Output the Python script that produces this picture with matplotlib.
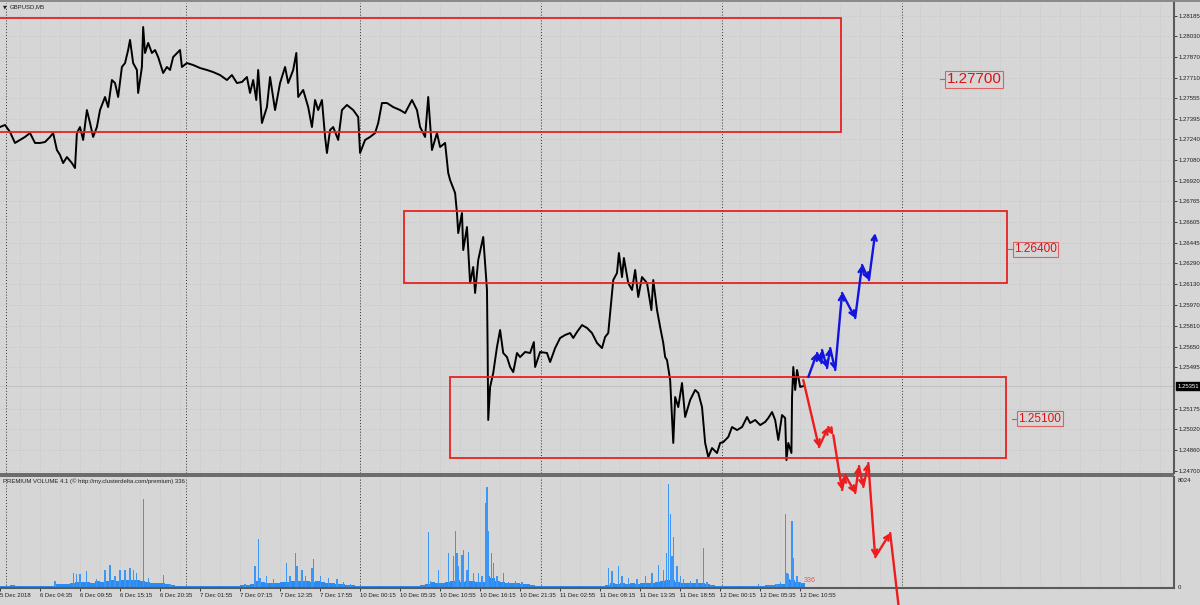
import matplotlib
matplotlib.use("Agg")
import matplotlib.pyplot as plt
from matplotlib.patches import Rectangle
import numpy as np

plt.rcParams['font.family'] = ['Liberation Sans', 'DejaVu Sans']

BG = '#d6d6d6'
GRID = '#c2c2c2'
RED = '#e62222'

# M5 bars counted from 5 Dec 23:15
time_labels = ["5 Dec 2018", "6 Dec 04:35", "6 Dec 09:55", "6 Dec 15:15", "6 Dec 20:35",
               "7 Dec 01:55", "7 Dec 07:15", "7 Dec 12:35", "7 Dec 17:55", "10 Dec 00:15",
               "10 Dec 05:35", "10 Dec 10:55", "10 Dec 16:15", "10 Dec 21:35", "11 Dec 02:55",
               "11 Dec 08:15", "11 Dec 13:35", "11 Dec 18:55", "12 Dec 00:15", "12 Dec 05:35",
               "12 Dec 10:55"]
day_sep = [10, 298, 576, 865, 1155, 1443]

price_ticks = [1.28185, 1.28030, 1.27870, 1.27710, 1.27555, 1.27395, 1.27240, 1.27080,
               1.26920, 1.26765, 1.26605, 1.26445, 1.26290, 1.26130, 1.25970, 1.25810,
               1.25650, 1.25495, 1.25175, 1.25020, 1.24860, 1.24700]
last_price = 1.25351

price_bar = [0, 8, 16, 24, 32, 40, 48, 56, 64, 72,
             80, 85, 91, 96, 101, 107, 115, 120, 123, 128,
             133, 139, 144, 149, 155, 160, 168, 173, 179, 184,
             189, 195, 200, 205, 208, 213, 219, 221, 227, 229,
             232, 237, 243, 248, 253, 261, 267, 272, 277, 288,
             291, 299, 309, 320, 331, 341, 352, 363, 371, 379,
             387, 395, 400, 405, 410, 413, 419, 427, 432, 440,
             448, 456, 461, 469, 474, 477, 485, 493, 499, 504,
             509, 515, 520, 523, 528, 533, 541, 547, 555, 565,
             573, 576, 584, 592, 600, 605, 611, 619, 629, 640,
             648, 659, 667, 672, 680, 685, 691, 699, 704, 712,
             717, 720, 728, 731, 733, 739, 741, 747, 752, 757,
             760, 765, 773, 776, 779, 780, 781, 784, 789, 795,
             800, 805, 811, 816, 821, 827, 832, 840, 848, 854,
             856, 864, 875, 880, 888, 896, 904, 912, 917, 923,
             931, 939, 947, 955, 963, 968, 973, 976, 981, 987,
             990, 995, 998, 1005, 1011, 1016, 1021, 1027, 1035, 1042,
             1045, 1051, 1056, 1061, 1064, 1067, 1072, 1077, 1080, 1085,
             1091, 1096, 1104, 1112, 1117, 1123, 1128, 1133, 1139, 1147,
             1152, 1157, 1165, 1171, 1179, 1187, 1195, 1200, 1208, 1216,
             1224, 1229, 1235, 1240, 1245, 1251, 1256, 1258, 1261, 1266,
             1267, 1269, 1272, 1275, 1280, 1285]
price_val = [1.27335, 1.27351, 1.27297, 1.27213, 1.27236, 1.27259, 1.27289, 1.27213, 1.27213, 1.27220,
             1.27259, 1.27289, 1.27159, 1.27121, 1.27059, 1.27105, 1.27059, 1.27021, 1.27289, 1.27335,
             1.27236, 1.27465, 1.27366, 1.27259, 1.27335, 1.27465, 1.27565, 1.27488, 1.27695, 1.27672,
             1.27565, 1.27795, 1.27825, 1.27925, 1.28002, 1.27825, 1.27772, 1.27596, 1.27795, 1.28101,
             1.27902, 1.27979, 1.27902, 1.27925, 1.27871, 1.27749, 1.27795, 1.27772, 1.27871, 1.27925,
             1.27795, 1.27825, 1.27810, 1.27787, 1.27772, 1.27756, 1.27733, 1.27695, 1.27733, 1.27672,
             1.27680, 1.27718, 1.27596, 1.27695, 1.27542, 1.27772, 1.27366, 1.27488, 1.27718, 1.27465,
             1.27672, 1.27795, 1.27672, 1.27772, 1.27902, 1.27565, 1.27619, 1.27488, 1.27335, 1.27542,
             1.27465, 1.27542, 1.27259, 1.27136, 1.27312, 1.27335, 1.27236, 1.27465, 1.27504, 1.27465,
             1.27412, 1.27136, 1.27236, 1.27259, 1.27289, 1.27366, 1.27519, 1.27519, 1.27488, 1.27465,
             1.27442, 1.27542, 1.27465, 1.27335, 1.27259, 1.27565, 1.27159, 1.27289, 1.27182, 1.27213,
             1.26983, 1.26929, 1.26830, 1.26676, 1.26523, 1.26676, 1.26393, 1.26569, 1.26140, 1.26263,
             1.26064, 1.26316, 1.26493, 1.26293, 1.26087, 1.25650, 1.25091, 1.25344, 1.25451, 1.25650,
             1.25780, 1.25604, 1.25573, 1.25497, 1.25458, 1.25604, 1.25573, 1.25612, 1.25604, 1.25688,
             1.25497, 1.25612, 1.25604, 1.25535, 1.25642, 1.25719, 1.25742, 1.25757, 1.25719, 1.25765,
             1.25818, 1.25796, 1.25757, 1.25681, 1.25642, 1.25727, 1.25757, 1.25910, 1.26163, 1.26217,
             1.26370, 1.26186, 1.26332, 1.26140, 1.26087, 1.26240, 1.26033, 1.26186, 1.26140, 1.25933,
             1.26163, 1.25933, 1.25803, 1.25681, 1.25573, 1.25550, 1.25397, 1.24915, 1.25267, 1.25190,
             1.25374, 1.25114, 1.25244, 1.25321, 1.25298, 1.25190, 1.24915, 1.24807, 1.24876, 1.24838,
             1.24915, 1.24922, 1.24961, 1.25037, 1.25014, 1.25037, 1.25114, 1.25068, 1.25091, 1.25052,
             1.25076, 1.25106, 1.25152, 1.25091, 1.24938, 1.25129, 1.25106, 1.24784, 1.24915, 1.24838,
             1.25267, 1.25497, 1.25321, 1.25474, 1.25344, 1.25351]

# supply / demand zones
zone_left = [-40, 647, 720]
zone_right = [1346, 1611, 1609]
zone_top = [1.28170, 1.26690, 1.25420]
zone_bottom = [1.27300, 1.26140, 1.24800]
level_price = [1.27700, 1.26400, 1.25100]
level_bar = [1514, 1622, 1629]
level_size = [11, 8.5, 8.5]

# projected paths
up_bar = [1293, 1307, 1314, 1315, 1323, 1328, 1336, 1347, 1368, 1379, 1390, 1400]
up_val = [1.25420, 1.25604, 1.25527, 1.25627, 1.25489, 1.25642, 1.25474, 1.26064,
          1.25872, 1.26278, 1.26163, 1.26523]
down_bar = [1285, 1310, 1325, 1333, 1347, 1352, 1368, 1374, 1381, 1389, 1400, 1424, 1440]
down_val = [1.25397, 1.24884, 1.25037, 1.24976, 1.24555, 1.24670, 1.24532, 1.24738,
            1.24578, 1.24761, 1.24041, 1.24225, 1.23559]

# PREMIUM VOLUME: background level every 8 bars + single-bar spikes
vol_base = [100, 80, 120, 80, 60, 90, 60, 70, 50, 80,
            60, 250, 200, 260, 330, 400, 350, 380, 330, 420,
            380, 450, 500, 480, 520, 550, 560, 520, 480, 400,
            330, 300, 300, 250, 150, 60, 40, 40, 60, 40,
            60, 40, 50, 60, 50, 40, 60, 80, 120, 150,
            200, 450, 400, 330, 300, 330, 380, 400, 430, 480,
            420, 450, 400, 420, 380, 330, 280, 220, 200, 150,
            120, 80, 60, 50, 70, 60, 80, 60, 70, 50,
            70, 80, 80, 100, 160, 200, 350, 300, 330, 350,
            450, 500, 400, 450, 420, 380, 400, 800, 700, 450,
            350, 330, 300, 280, 250, 200, 150, 80, 60, 50,
            60, 40, 50, 40, 40, 50, 40, 60, 50, 40,
            80, 120, 300, 250, 280, 250, 300, 260, 280, 300,
            330, 380, 450, 550, 500, 400, 330, 330, 300, 280,
            300, 250, 150, 80, 40, 50, 40, 60, 40, 50,
            60, 50, 100, 150, 180, 220, 250, 600, 550, 400,
            330]
vol_spike_bar = [88, 117, 123, 128, 139, 155, 168, 176, 184, 192,
                 200, 208, 213, 219, 229, 237, 261, 272, 392, 408,
                 413, 416, 427, 437, 459, 464, 472, 475, 483, 488,
                 499, 501, 512, 525, 539, 549, 560, 685, 688, 702,
                 717, 725, 728, 731, 733, 739, 742, 747, 750, 757,
                 765, 771, 776, 779, 782, 786, 789, 795, 805, 813,
                 824, 835, 973, 979, 989, 995, 1005, 1019, 1032, 1043,
                 1054, 1061, 1066, 1069, 1072, 1075, 1078, 1083, 1088, 1093,
                 1104, 1115, 1125, 1126, 1131, 1213, 1243, 1248, 1256, 1259,
                 1261, 1267, 1269, 1275, 1280]
vol_spike = [460, 1070, 950, 950, 1190, 580, 1310, 1680, 830, 1310,
             1310, 1430, 1310, 1070, 6610, 700, 880, 220, 220, 1560,
             3620, 700, 830, 580, 1800, 830, 2530, 1560, 1310, 830,
             1430, 2090, 830, 700, 580, 340, 220, 4130, 460, 1310,
             2530, 2290, 4230, 2530, 1560, 2410, 2770, 1310, 2650, 1070,
             1070, 830, 6320, 7500, 4230, 2530, 1800, 830, 1070, 340,
             460, 340, 1430, 1190, 1610, 830, 700, 580, 830, 1070,
             1680, 1310, 2530, 7750, 5440, 2290, 3740, 1560, 830, 580,
             460, 580, 2890, 1310, 340, 220, 220, 340, 5440, 1070,
             950, 4960, 2160, 830, 340]
vol_max = 8024
vol_last = 336

W, H = 1200, 605
N_BARS = 1878


def px_box(left, top, right, bottom):
    """figure-fraction rect from pixel edges"""
    return [left / W, 1 - bottom / H, (right - left) / W, (bottom - top) / H]


def draw_grid(a):
    """MT4-like dotted grid and day separators"""
    for b in range(32, N_BARS, 32):
        a.axvline(b, color=GRID, lw=0.6, ls=(0, (1, 2)), zorder=0)
    for b in day_sep:
        a.axvline(b, color='#303030', lw=0.7, ls=(0, (1, 2)), zorder=1)


def draw_path(a, xs, ys, color):
    """zig-zag path with arrow heads on every leg"""
    for i in range(len(xs) - 1):
        a.annotate('', xy=(xs[i + 1], ys[i + 1]), xytext=(xs[i], ys[i]),
                   arrowprops=dict(arrowstyle='->,head_length=0.35,head_width=0.18',
                                   color=color, lw=1.7, shrinkA=0, shrinkB=0),
                   annotation_clip=False, zorder=6)


fig = plt.figure(figsize=(12, 6.05), dpi=100, facecolor=BG)
ax = fig.add_axes(px_box(0, 3, 1174, 473))
axv = fig.add_axes(px_box(0, 477, 1174, 588))
ax.set_zorder(3)

# ---- price window
ax.set_facecolor(BG)
ax.set_xlim(0, N_BARS)
ax.set_ylim(1.24685, 1.28285)
for p in price_ticks:
    ax.axhline(p, color=GRID, lw=0.6, ls=(0, (1, 2)), zorder=0)
draw_grid(ax)
ax.axhline(last_price, color='#c4c4c4', lw=0.8, zorder=1)

for l, r, t, b in zip(zone_left, zone_right, zone_top, zone_bottom):
    ax.add_patch(Rectangle((l, b), r - l, t - b, fill=False, ec=RED, lw=1.3, zorder=4))

for p, b, s in zip(level_price, level_bar, level_size):
    ax.plot([b - 10, b], [p, p], color='#e05050', lw=0.8, zorder=4, clip_on=False)
    ax.text(b, p, f'{p:.5f}', ha='left', va='center', fontsize=s, color='#e01010', zorder=5,
            bbox=dict(boxstyle='square,pad=0.12', fc=BG, ec='#e06060', lw=0.8))

ax.plot(price_bar, price_val, color='black', lw=1.4, zorder=3)
draw_path(ax, up_bar, up_val, '#1414e0')
draw_path(ax, down_bar, down_val, '#ee1c1c')

ax.yaxis.tick_right()
ax.set_yticks(price_ticks)
ax.set_yticklabels([f'{p:.5f}' for p in price_ticks])
ax.tick_params(axis='y', labelsize=4.3, length=2, width=0.6, pad=1.2, colors='#202020')
ax.set_xticks([])
for s in ['left', 'top', 'bottom']:
    ax.spines[s].set_visible(False)
ax.spines['right'].set_color('#5a5a5a')
ax.spines['right'].set_linewidth(1.5)
ax.annotate(f'{last_price:.5f}', xy=(1, last_price), xycoords=('axes fraction', 'data'),
            xytext=(2.6, 0), textcoords='offset points', ha='left', va='center',
            fontsize=4.3, color='white', annotation_clip=False,
            bbox=dict(boxstyle='square,pad=0.25', fc='black', ec='black'))

# ---- volume window
axv.set_facecolor(BG)
axv.set_xlim(0, N_BARS)
axv.set_ylim(-75, 8250)
draw_grid(axv)
axv.bar(np.arange(len(vol_base)) * 8, vol_base, width=8, align='edge',
        color='#2a8cf0', lw=0, zorder=2)
axv.bar(vol_spike_bar, vol_spike, width=1.8, color='#3c96f5', lw=0, zorder=2)
axv.text(1286, 450, str(vol_last), fontsize=5, color='#f05050', ha='left', va='center')

axv.set_xticks(np.arange(len(time_labels)) * 64)
axv.set_xticklabels(time_labels, ha='left')
axv.tick_params(axis='x', labelsize=4.3, length=2, width=0.6, pad=1.6, colors='#202020')
axv.yaxis.tick_right()
axv.set_yticks([0, vol_max])
axv.set_yticklabels(['0', str(vol_max)])
axv.tick_params(axis='y', labelsize=4.3, length=0, pad=2.5, colors='#202020')
for s in ['left', 'top']:
    axv.spines[s].set_visible(False)
for s in ['right', 'bottom']:
    axv.spines[s].set_color('#5a5a5a')
    axv.spines[s].set_linewidth(1.5)

# window separator and top border
fig.patches.append(Rectangle((0, 1 - 477 / H), 1174 / W, 4 / H, transform=fig.transFigure,
                             fc='#6c6c6c', ec='none'))
fig.patches.append(Rectangle((0, 1 - 2 / H), 1, 2 / H, transform=fig.transFigure,
                             fc='#8a8a8a', ec='none'))

fig.text(3 / W, 1 - 7 / H, '\u25bc', fontsize=3.5, va='center', ha='left', color='#202020',
         family=['DejaVu Sans'])
fig.text(10 / W, 1 - 7 / H, 'GBPUSD,M5', fontsize=4.3, va='center', ha='left', color='#202020')
fig.text(3 / W, 1 - 481 / H, 'PREMIUM VOLUME 4.1 (\u00a9 http://my.clusterdelta.com/premium) 336',
         fontsize=4.3, va='center', ha='left', color='#202020')

fig.savefig('out.png', dpi=100, facecolor=BG)
